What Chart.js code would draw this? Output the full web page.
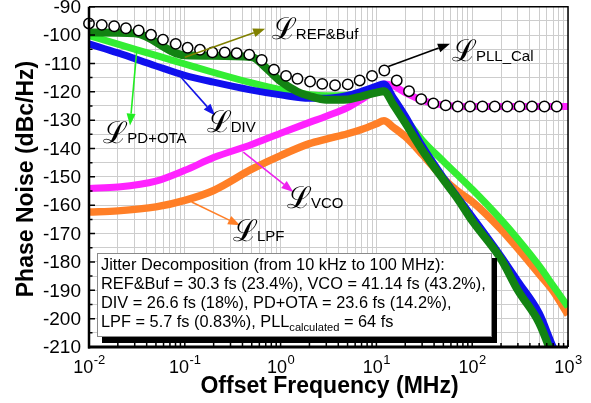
<!DOCTYPE html>
<html>
<head>
<meta charset="utf-8">
<script src="https://cdn.jsdelivr.net/npm/chart.js@4"></script>
<style>
  html, body { margin: 0; padding: 0; background: #fff; }
  #wrap { width: 591px; height: 403px; }
</style>
</head>
<body>
<div id="wrap"><canvas id="c"></canvas></div>
<script>
// Offset frequencies (MHz) shared by the smooth noise contributions
const freq = [0.01, 0.02, 0.05, 0.1, 0.2, 0.5, 1, 2, 3, 5, 7, 10, 12, 15, 20, 30, 50, 70, 100, 200, 300, 500, 700, 1000];

// Phase-noise contributions (dBc/Hz)
const vco    = [-154.1, -153.6, -151.5, -147.7, -143.2, -138.6, -134.6, -130.8, -128.6, -125.6, -122.7, -119.2, -117.3, -117.9, -120.3, -123.0, -124.7, -125.1, -125.2, -125.2, -125.2, -125.2, -125.2, -125.2];
const lpf    = [-162.4, -162.0, -160.6, -158.3, -154.8, -147.3, -142.5, -138.3, -136.7, -134.8, -133.3, -131.3, -130.2, -132.5, -135.8, -142.0, -150.5, -155.0, -158.7, -168.5, -175.3, -184.3, -190.3, -198.6];
const pdOta  = [-100.2, -103.2, -107.2, -110.2, -113.2, -116.9, -119.3, -121.0, -121.4, -121.2, -120.5, -119.5, -118.8, -123.0, -129.3, -137.0, -144.5, -149.3, -154.4, -165.1, -172.0, -181.4, -188.4, -195.8];
const div    = [-103.1, -106.3, -110.9, -114.2, -116.6, -119.4, -121.1, -122.3, -122.3, -121.3, -119.8, -118.0, -117.3, -122.0, -128.5, -139.0, -150.2, -157.0, -164.0, -178.0, -186.8, -198.0, -209.9, -221.0];

// Reference & buffer contribution has its own breakpoints
const refFreq = [0.01, 0.03, 0.1, 0.5, 0.7, 1, 1.5, 2, 3, 5, 7, 10, 12, 15, 20, 30, 50, 70, 100, 200, 300, 500, 700, 1000];
const refBuf  = [-99.1, -99.4, -107.1, -107.7, -111.5, -116.3, -120.0, -121.5, -122.8, -122.7, -121.6, -120.3, -119.8, -124.5, -131.0, -140.5, -151.0, -157.6, -165.5, -179.0, -190.0, -201.5, -214.0, -230.0];

// Calculated total PLL phase noise (circles)
const calFreq = [0.01, 0.0136, 0.0183, 0.0243, 0.033, 0.0444, 0.0592, 0.0804, 0.107, 0.144, 0.194, 0.261, 0.348, 0.471, 0.635, 0.853, 1.14, 1.5, 2.03, 2.72, 3.7, 5.02, 6.69, 9.0, 12.1, 16.3, 21.9, 29.4, 39.3, 52.9, 70.6, 94.9, 128, 172, 232, 312, 421, 567, 762];
const pllCal  = [-95.9, -96.4, -96.9, -97.6, -98.4, -99.9, -101.6, -103.1, -104.5, -105.2, -106.1, -106.1, -106.4, -106.9, -108.8, -112.2, -114.4, -115.4, -116.4, -117.2, -117.7, -117.4, -116.0, -114.4, -112.5, -116.0, -119.8, -122.6, -124.1, -124.8, -125.2, -125.2, -125.2, -125.2, -125.2, -125.2, -125.2, -125.2, -125.2];

// Axis ticks
const yTickLabels = [-90, -100, -110, -120, -130, -140, -150, -160, -170, -180, -190, -200, -210];
const xDecadeExps = [-2, -1, 0, 1, 2, 3];

// Summary text
const jitterLines = [
  'Jitter Decomposition (from 10 kHz to 100 MHz):',
  'REF&Buf = 30.3 fs (23.4%), VCO = 41.14 fs (43.2%),',
  'DIV = 26.6 fs (18%), PD+OTA = 23.6 fs (14.2%),'
];
const lastLine = ['LPF = 5.7 fs (0.83%), PLL', 'calculated', ' = 64 fs'];

// Curve labels: arrow start, arrow tip, label anchor (MHz, dBc/Hz)
const notes = [
  { sub: 'REF&Buf', color: '#808000', from: [0.1, -107.8],   to: [0.69, -97.8],   at: [0.81, -101.3] },
  { sub: 'PLL_Cal', color: '#000000', from: [13.3, -111.1],  to: [58.6, -103.1],  at: [61.5, -109.0] },
  { sub: 'DIV',     color: '#1414e6', from: [0.082, -113.1], to: [0.207, -128.4], at: [0.1695, -134.3] },
  { sub: 'PD+OTA',  color: '#22ee22', from: [0.0315, -105.5],to: [0.0268, -131.9],at: [0.0141, -138.2] },
  { sub: 'VCO',     color: '#ee22ee', from: [0.408, -141.3], to: [1.358, -155.3], at: [1.167, -161.1] },
  { sub: 'LPF',     color: '#ff7f27', from: [0.118, -158.9], to: [0.377, -167.1], at: [0.318, -172.7] }
];

const SANS = '"Liberation Sans", Arial, sans-serif';
const pts = (xs, ys) => xs.map((x, i) => ({ x, y: ys[i] }));

function arrow(ctx, x0, y0, x1, y1, color) {
  const a = Math.atan2(y1 - y0, x1 - x0);
  const L = 12, W = 4.5;
  ctx.strokeStyle = color; ctx.fillStyle = color; ctx.lineWidth = 1.6;
  ctx.beginPath();
  ctx.moveTo(x0, y0);
  ctx.lineTo(x1 - L * Math.cos(a), y1 - L * Math.sin(a));
  ctx.stroke();
  ctx.beginPath();
  ctx.moveTo(x1, y1);
  ctx.lineTo(x1 - L * Math.cos(a) + W * Math.sin(a), y1 - L * Math.sin(a) - W * Math.cos(a));
  ctx.lineTo(x1 - L * Math.cos(a) - W * Math.sin(a), y1 - L * Math.sin(a) + W * Math.cos(a));
  ctx.closePath();
  ctx.fill();
}

const overlay = {
  id: 'overlay',
  afterDatasetsDraw(chart) {
    const ctx = chart.ctx, xs = chart.scales.x, ys = chart.scales.y;
    const px = (f, v) => [xs.getPixelForValue(f), ys.getPixelForValue(v)];
    ctx.save();
    ctx.textBaseline = 'alphabetic';
    ctx.textAlign = 'left';
    for (const n of notes) {
      const [x0, y0] = px(n.from[0], n.from[1]);
      const [x1, y1] = px(n.to[0], n.to[1]);
      arrow(ctx, x0, y0, x1, y1, n.color);
      const [lx, ly] = px(n.at[0], n.at[1]);
      ctx.fillStyle = '#000';
      ctx.font = '30px "DejaVu Serif", serif';
      ctx.fillText('\u2112', lx, ly);
      ctx.font = '15px ' + SANS;
      ctx.fillText(n.sub, lx + 24, ly);
    }

    // jitter summary box with drop shadow
    const a = chart.chartArea;
    const bx = a.left + 8, by = 253, bw = 395, bh = 84;
    ctx.fillStyle = '#000';
    ctx.fillRect(bx + 5, by + 5, bw, bh + 1);
    ctx.fillStyle = '#fff';
    ctx.fillRect(bx, by, bw, bh);
    ctx.strokeStyle = '#8a8a8a'; ctx.lineWidth = 1;
    ctx.strokeRect(bx + 0.5, by + 0.5, bw - 1, bh - 1);

    ctx.font = '16px ' + SANS;
    const fs = 16 * 385 / ctx.measureText(jitterLines[1]).width;
    ctx.font = fs.toFixed(2) + 'px ' + SANS;
    ctx.fillStyle = '#000';
    const tx = bx + 4;
    jitterLines.forEach((t, i) => ctx.fillText(t, tx, 270 + i * 19));
    let cx = tx;
    ctx.fillText(lastLine[0], cx, 327);
    cx += ctx.measureText(lastLine[0]).width;
    ctx.font = (fs * 0.68).toFixed(2) + 'px ' + SANS;
    ctx.fillText(lastLine[1], cx, 331);
    cx += ctx.measureText(lastLine[1]).width;
    ctx.font = fs.toFixed(2) + 'px ' + SANS;
    ctx.fillText(lastLine[2], cx, 327);
    ctx.restore();
  },
  afterDraw(chart) {
    const ctx = chart.ctx, xs = chart.scales.x, ys = chart.scales.y, a = chart.chartArea;
    ctx.save();
    ctx.strokeStyle = '#000';
    // frame
    ctx.lineWidth = 1.5;
    ctx.beginPath();
    ctx.moveTo(a.left, a.top); ctx.lineTo(a.right, a.top); ctx.lineTo(a.right, a.bottom);
    ctx.stroke();
    ctx.lineWidth = 2.5;
    ctx.beginPath(); ctx.moveTo(a.left, a.top); ctx.lineTo(a.left, a.bottom + 1.5); ctx.stroke();
    ctx.lineWidth = 3;
    ctx.beginPath(); ctx.moveTo(a.left - 1, a.bottom); ctx.lineTo(a.right, a.bottom); ctx.stroke();

    // inward tick marks
    ctx.lineWidth = 1.5;
    ctx.beginPath();
    ys.ticks.forEach(t => {
      const y = ys.getPixelForValue(t.value);
      const len = (Math.round(t.value) % 10 === 0) ? 6 : 3.5;
      ctx.moveTo(a.left, y); ctx.lineTo(a.left + len, y);
    });
    xs.ticks.forEach(t => {
      const x = xs.getPixelForValue(t.value);
      const m = Math.abs(Math.log10(t.value) - Math.round(Math.log10(t.value))) < 1e-6;
      ctx.moveTo(x, a.bottom); ctx.lineTo(x, a.bottom - (m ? 7 : 4));
    });
    ctx.stroke();

    // y tick labels
    ctx.fillStyle = '#000';
    ctx.font = '19px ' + SANS;
    ctx.textAlign = 'right';
    ctx.textBaseline = 'middle';
    yTickLabels.forEach(v => ctx.fillText(String(v), a.left - 8, ys.getPixelForValue(v) + 1));

    // x tick labels as powers of ten
    ctx.textAlign = 'left';
    ctx.textBaseline = 'alphabetic';
    xDecadeExps.forEach(e => {
      const x = xs.getPixelForValue(Math.pow(10, e));
      const sup = e < 0 ? '-' + (-e) : String(e);
      ctx.font = '18px ' + SANS;
      const wb = ctx.measureText('10').width;
      ctx.font = '13px ' + SANS;
      const ws = ctx.measureText(sup).width;
      const x0 = x - (wb + ws) / 2;
      ctx.font = '18px ' + SANS;
      ctx.fillText('10', x0, 373);
      ctx.font = '13px ' + SANS;
      ctx.fillText(sup, x0 + wb + 0.5, 364);
    });

    // axis titles
    ctx.font = 'bold 23px ' + SANS;
    ctx.textAlign = 'center';
    ctx.fillText('Offset Frequency (MHz)', (a.left + a.right) / 2 + 1, 393);
    ctx.translate(27, 179);
    ctx.rotate(-Math.PI / 2);
    ctx.textBaseline = 'middle';
    ctx.fillText('Phase Noise (dBc/Hz)', 0, 0);
    ctx.restore();
  }
};

const line = (label, xs, ys, color, width, order) => ({
  label, data: pts(xs, ys), borderColor: color, backgroundColor: color,
  borderWidth: width, pointRadius: 0, cubicInterpolationMode: 'monotone', fill: false, order
});

new Chart(document.getElementById('c'), {
  type: 'line',
  data: {
    datasets: [
      {
        label: 'PLL_Cal', data: pts(calFreq, pllCal), showLine: false,
        pointRadius: 5.2, pointBorderWidth: 1.5, pointBackgroundColor: '#fff',
        pointBorderColor: '#000', clip: 10, order: 0
      },
      line('REF&Buf', refFreq, refBuf, '#128312', 8, 1),
      line('DIV', freq, div, '#1010ee', 7, 2),
      line('PD+OTA', freq, pdOta, '#33ee33', 7, 3),
      line('LPF', freq, lpf, '#ff7f27', 7.5, 4),
      line('VCO', freq, vco, '#ff22ff', 7, 5)
    ]
  },
  options: {
    responsive: true,
    maintainAspectRatio: false,
    devicePixelRatio: 1,
    animation: false,
    layout: { padding: { top: 6, right: 23, left: 0, bottom: 0 } },
    plugins: { legend: { display: false }, tooltip: { enabled: false } },
    scales: {
      x: {
        type: 'logarithmic', min: 0.01, max: 1000,
        ticks: { display: false, autoSkip: false },
        grid: { color: '#cdcdcd', lineWidth: 1, drawTicks: false },
        border: { display: false },
        afterBuildTicks(scale) {
          const t = [];
          for (let e = -2; e < 3; e++) for (let m = 1; m < 10; m++) t.push({ value: m * Math.pow(10, e) });
          t.push({ value: 1000 });
          scale.ticks = t;
        },
        afterFit(scale) { scale.height = 56; }
      },
      y: {
        type: 'linear', min: -210, max: -90,
        ticks: { display: false, stepSize: 5 },
        grid: { color: '#cdcdcd', lineWidth: 1, drawTicks: false },
        border: { display: false },
        afterFit(scale) { scale.width = 89; }
      }
    }
  },
  plugins: [overlay]
});
</script>
</body>
</html>
